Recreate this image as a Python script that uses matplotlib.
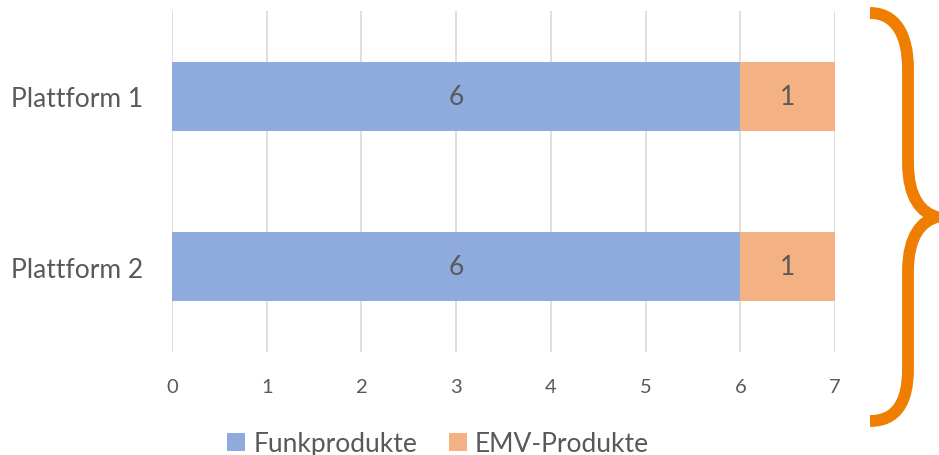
import matplotlib
matplotlib.use("Agg")
import matplotlib.pyplot as plt
from matplotlib.path import Path
from matplotlib.patches import PathPatch

categories = ["Plattform 1", "Plattform 2"]
funk = [6, 6]
emv = [1, 1]
series_names = ["Funkprodukte", "EMV-Produkte"]
xticks = [0, 1, 2, 3, 4, 5, 6, 7]

BLUE = "#8FAADC"
ORANGE = "#F4B183"
BRACE = "#EF7D00"
TEXT = "#595959"
GRID = "#D9D9D9"

plt.rcParams['font.family'] = ['Lato', 'DejaVu Sans']

W, H = 939, 456
fig = plt.figure(figsize=(W / 100, H / 100), dpi=100)
ax = fig.add_axes([172 / W, 1 - 353 / H, (835 - 172) / W, (353 - 12) / H])

y = list(range(len(categories)))
b1 = ax.barh(y, funk, height=0.406, color=BLUE, label=series_names[0], zorder=3)
b2 = ax.barh(y, emv, left=funk, height=0.406, color=ORANGE, label=series_names[1], zorder=3)
for bars, vals in ((b1, funk), (b2, emv)):
    ax.bar_label(bars, labels=[str(v) for v in vals], label_type='center',
                 color=TEXT, fontsize=19)

ax.set_ylim(1.5, -0.5)
ax.set_xlim(0, 7)
ax.set_xticks(xticks)
ax.set_xticklabels([str(t) for t in xticks])
ax.set_yticks(y)
ax.set_yticklabels(categories)
ax.tick_params(axis='x', length=0, pad=19, labelsize=14.5, labelcolor=TEXT)
ax.tick_params(axis='y', length=0, pad=21, labelsize=19, labelcolor=TEXT)
ax.grid(axis='x', color=GRID, linewidth=1.2, zorder=0)
for s in ax.spines.values():
    s.set_visible(False)

leg = fig.legend(loc='lower center', bbox_to_anchor=(438 / W, -0.055), ncol=2, frameon=False,
                 fontsize=19, handlelength=0.7, handleheight=0.7, handletextpad=0.3,
                 columnspacing=1.2)
for t in leg.get_texts():
    t.set_color(TEXT)

# curly brace (decoration, pixel coords -> figure fraction)
def P(x, yy):
    return (x / W, 1 - yy / H)

verts = [P(870, 14), P(895, 14), P(908, 35), P(908, 70),
         P(908, 163),
         P(908, 200), P(922, 214), P(937, 218),
         P(922, 222), P(908, 236), P(908, 273),
         P(908, 370),
         P(908, 405), P(895, 422), P(870, 422)]
codes = [Path.MOVETO, Path.CURVE4, Path.CURVE4, Path.CURVE4,
         Path.LINETO,
         Path.CURVE4, Path.CURVE4, Path.CURVE4,
         Path.CURVE4, Path.CURVE4, Path.CURVE4,
         Path.LINETO,
         Path.CURVE4, Path.CURVE4, Path.CURVE4]
fig.patches.append(PathPatch(Path(verts, codes), transform=fig.transFigure,
                             fill=False, edgecolor=BRACE, linewidth=8.5,
                             capstyle='butt', joinstyle='miter'))

fig.savefig("out.png", dpi=100)
